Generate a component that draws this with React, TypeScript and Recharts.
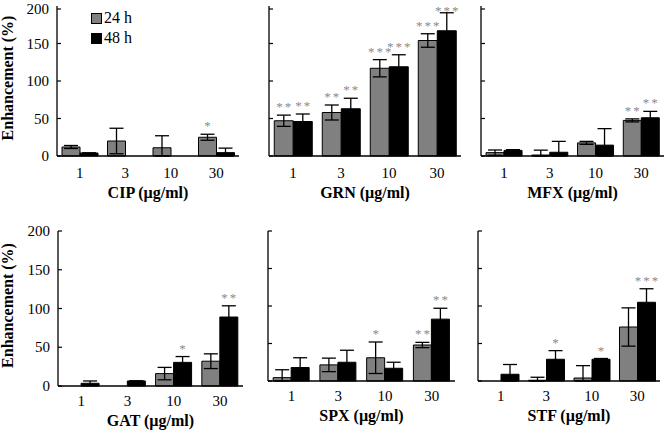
import React from "react";
import { BarChart, Bar, XAxis, YAxis, ErrorBar, LabelList, Label } from "recharts";

const FONT = "Liberation Serif, DejaVu Serif, serif";

const DOSES = ["1", "3", "10", "30"];
const Y_TICKS = [0, 50, 100, 150, 200];

// values (% enhancement), mean and SD, 24 h and 48 h
const CIP_24 = [12, 20, 11, 25];
const CIP_24_ERR = [2, 17, 16, 4];
const CIP_48 = [4, 0, 0, 4.5];
const CIP_48_ERR = [0, 0, 0, 6];
const CIP_24_SIG = ["", "", "", "*"];
const CIP_48_SIG = ["", "", "", ""];

const GRN_24 = [47, 58, 117, 154];
const GRN_24_ERR = [7.5, 10, 11.5, 9];
const GRN_48 = [46, 63, 119, 167];
const GRN_48_ERR = [10, 14, 16, 24];
const GRN_24_SIG = ["**", "**", "***", "***"];
const GRN_48_SIG = ["**", "**", "***", "***"];

const MFX_24 = [4.5, 1.3, 17.5, 47.5];
const MFX_24_ERR = [3.5, 6.5, 2, 2];
const MFX_48 = [7.5, 5, 14.5, 51];
const MFX_48_ERR = [1, 14.5, 22, 8.5];
const MFX_24_SIG = ["", "", "", "**"];
const MFX_48_SIG = ["", "", "", "**"];

const GAT_24 = [0, 0, 16, 32];
const GAT_24_ERR = [6.5, 5, 8, 9.5];
const GAT_48 = [3.5, 6.5, 30.5, 89];
const GAT_48_ERR = [3, 0, 7.5, 14.5];
const GAT_24_SIG = ["", "", "", "*"];
const GAT_48_SIG = ["", "", "*", "**"];

const SPX_24 = [4.5, 21.5, 31, 48];
const SPX_24_ERR = [10.5, 9, 21, 3.5];
const SPX_48 = [18, 25, 17, 82.5];
const SPX_48_ERR = [13, 16, 8, 14.5];
const SPX_24_SIG = ["", "", "*", "**"];
const SPX_48_SIG = ["", "", "", "**"];

const STF_24 = [0, 1, 4, 72];
const STF_24_ERR = [5.5, 4, 16.5, 25.5];
const STF_48 = [9, 29, 29, 105];
const STF_48_ERR = [13, 11.5, 1, 18];
const STF_24_SIG = ["", "", "", "**"];
const STF_48_SIG = ["", "*", "*", "***"];

const SERIES = [
  { name: "24 h", color: "#808080" },
  { name: "48 h", color: "#000000" },
];

const PANELS = [
  { drug: "CIP", v24: CIP_24, e24: CIP_24_ERR, s24: CIP_24_SIG, v48: CIP_48, e48: CIP_48_ERR, s48: CIP_48_SIG },
  { drug: "GRN", v24: GRN_24, e24: GRN_24_ERR, s24: GRN_24_SIG, v48: GRN_48, e48: GRN_48_ERR, s48: GRN_48_SIG },
  { drug: "MFX", v24: MFX_24, e24: MFX_24_ERR, s24: MFX_24_SIG, v48: MFX_48, e48: MFX_48_ERR, s48: MFX_48_SIG },
  { drug: "GAT", v24: GAT_24, e24: GAT_24_ERR, s24: GAT_24_SIG, v48: GAT_48, e48: GAT_48_ERR, s48: GAT_48_SIG },
  { drug: "SPX", v24: SPX_24, e24: SPX_24_ERR, s24: SPX_24_SIG, v48: SPX_48, e48: SPX_48_ERR, s48: SPX_48_SIG },
  { drug: "STF", v24: STF_24, e24: STF_24_ERR, s24: STF_24_SIG, v48: STF_48, e48: STF_48_ERR, s48: STF_48_SIG },
];

// where each small chart sits on the page
const LAYOUT = [
  { left: 0, top: 0, width: 245, height: 206, axisW: 57, mt: 6, mr: 6, xh: 50, tickGap: 11, first: true },
  { left: 259, top: 0, width: 208, height: 206, axisW: 10, mt: 6, mr: 6, xh: 50, tickGap: 11, first: false },
  { left: 471, top: 0, width: 195, height: 206, axisW: 10, mt: 6, mr: 2, xh: 50, tickGap: 11, first: false },
  { left: 0, top: 221, width: 247, height: 209, axisW: 58, mt: 10, mr: 4, xh: 44, tickGap: 9, first: true },
  { left: 258, top: 221, width: 201, height: 204, axisW: 10, mt: 10, mr: 4, xh: 44, tickGap: 9, first: false },
  { left: 468, top: 221, width: 196, height: 204, axisW: 10, mt: 10, mr: 4, xh: 44, tickGap: 9, first: false },
];

function buildRows(p: any) {
  return DOSES.map((dose, i) => ({
    dose,
    v24: p.v24[i],
    v48: p.v48[i],
    e24: [Math.min(p.e24[i], p.v24[i]), p.e24[i]],
    e48: [Math.min(p.e48[i], p.v48[i]), p.e48[i]],
    s24: p.s24[i],
    s48: p.s48[i],
  }));
}

function YTick(props: any) {
  const { x, y, payload, showLabel } = props;
  const ax = x + 8;
  return (
    <g>
      <line x1={ax} x2={ax + 4} y1={y} y2={y} stroke="#000" strokeWidth={1.2} />
      {showLabel && (
        <text x={x} y={y} dy={5} textAnchor="end" fontSize={15} fontFamily={FONT} fill="#000">
          {payload.value}
        </text>
      )}
    </g>
  );
}

const sigLabel = (rows: any[], vKey: string, eKey: string, sKey: string) => (p: any) => {
  const row = rows[p.index];
  if (!row || !row[sKey] || !row[vKey]) return null;
  const vb = p.viewBox || p;
  const h = Math.abs(vb.height);
  const base = vb.y + vb.height;
  const ppu = h / row[vKey];
  const top = base - (row[vKey] + row[eKey][1]) * ppu;
  const cy = Math.max(top - 10, 9);
  return (
    <text
      x={vb.x + vb.width / 2 + 1}
      y={cy + 6}
      textAnchor="middle"
      fontSize={13}
      letterSpacing={2}
      fontFamily={FONT}
      fill="#8a8a8a"
    >
      {row[sKey]}
    </text>
  );
};

function LegendBox() {
  return (
    <div
      style={{
        position: "absolute",
        left: 91,
        top: 8,
        fontFamily: FONT,
        fontSize: 16,
        lineHeight: "20px",
        color: "#000",
      }}
    >
      {SERIES.map((s) => (
        <div key={s.name} style={{ display: "flex", alignItems: "center", height: 20 }}>
          <span
            style={{
              display: "inline-block",
              width: 9,
              height: 9,
              background: s.color,
              border: "1px solid #000",
              marginRight: 2,
            }}
          />
          {s.name}
        </div>
      ))}
    </div>
  );
}

function Panel({ panel, lay }: any) {
  const rows = buildRows(panel);
  return (
    <div style={{ position: "absolute", left: lay.left, top: lay.top }}>
      <BarChart
        width={lay.width}
        height={lay.height}
        data={rows}
        margin={{ top: lay.mt, right: lay.mr, left: 0, bottom: 0 }}
        barGap={0}
        barCategoryGap="11%"
      >
        <XAxis
          dataKey="dose"
          height={lay.xh}
          tickLine={false}
          tickSize={0}
          tickMargin={lay.tickGap}
          axisLine={{ stroke: "#000", strokeWidth: 1.3 }}
          tick={{ fontSize: 15, fill: "#000", fontFamily: FONT }}
        >
          <Label
            content={({ viewBox }: any) => (
              <text
                x={viewBox.x + viewBox.width / 2}
                y={viewBox.y + lay.tickGap + 31}
                textAnchor="middle"
                fontSize={16}
                fontWeight="bold"
                fontFamily={FONT}
                fill="#000"
              >
                {panel.drug + " (\u00b5g/ml)"}
              </text>
            )}
          />
        </XAxis>
        <YAxis
          width={lay.axisW}
          domain={[0, 200]}
          ticks={Y_TICKS}
          tickSize={0}
          tickMargin={8}
          tickLine={false}
          axisLine={{ stroke: "#000", strokeWidth: 1.3 }}
          tick={<YTick showLabel={lay.first} />}
        >
          {lay.first && (
            <Label
              content={({ viewBox }: any) => {
                const cy = viewBox.y + viewBox.height / 2 - 3;
                return (
                  <text
                    x={13}
                    y={cy}
                    transform={`rotate(-90, 13, ${cy})`}
                    textAnchor="middle"
                    fontSize={16}
                    fontWeight="bold"
                    fontFamily={FONT}
                    fill="#000"
                  >
                    Enhancement (%)
                  </text>
                );
              }}
            />
          )}
        </YAxis>
        <Bar dataKey="v24" name={SERIES[0].name} fill={SERIES[0].color} stroke="#000" strokeWidth={1} isAnimationActive={false}>
          <ErrorBar dataKey="e24" width={7} stroke="#000" strokeWidth={1.3} direction="y" />
          <LabelList dataKey="s24" content={sigLabel(rows, "v24", "e24", "s24")} />
        </Bar>
        <Bar dataKey="v48" name={SERIES[1].name} fill={SERIES[1].color} stroke="#000" strokeWidth={1} isAnimationActive={false}>
          <ErrorBar dataKey="e48" width={7} stroke="#000" strokeWidth={1.3} direction="y" />
          <LabelList dataKey="s48" content={sigLabel(rows, "v48", "e48", "s48")} />
        </Bar>
      </BarChart>
    </div>
  );
}

export default function App() {
  return (
    <div
      style={{
        position: "fixed",
        left: 0,
        top: 0,
        width: 666,
        height: 430,
        background: "#fff",
        overflow: "hidden",
      }}
    >
      {PANELS.map((p, i) => (
        <Panel key={p.drug} panel={p} lay={LAYOUT[i]} />
      ))}
      <LegendBox />
    </div>
  );
}
